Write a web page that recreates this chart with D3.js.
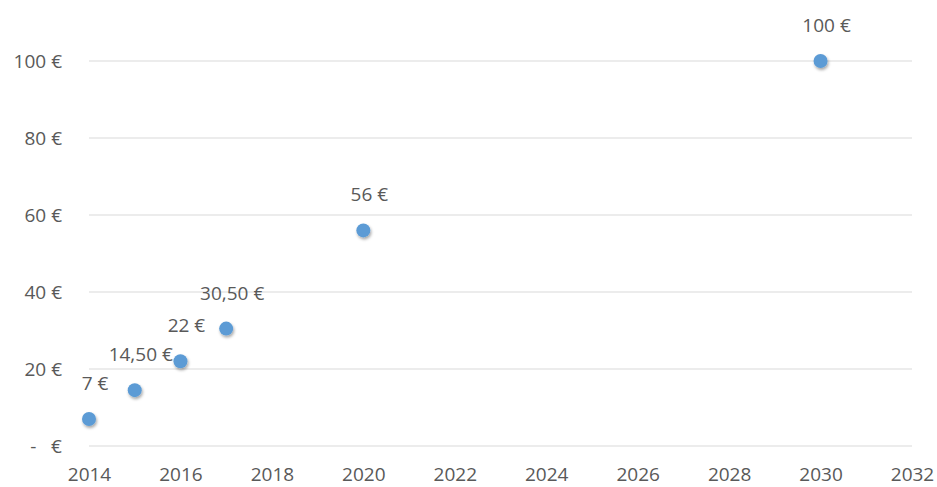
<!DOCTYPE html>
<html>
<head>
<meta charset="utf-8">
<script src="https://cdn.jsdelivr.net/npm/d3@7"></script>
<style>
  body { margin: 0; background: #fff; }
  text { font-family: "Open Sans", "Liberation Sans", sans-serif; fill: #595959; }
</style>
</head>
<body>
<div id="chart"></div>
<script>
var years = [2014, 2015, 2016, 2017, 2020, 2030];
var prices = [7, 14.5, 22, 30.5, 56, 100];
var priceLabels = ["7 €", "14,50 €", "22 €", "30,50 €", "56 €", "100 €"];
var yTicks = [0, 20, 40, 60, 80, 100];
var xTicks = [2014, 2016, 2018, 2020, 2022, 2024, 2026, 2028, 2030, 2032];

function drawChart() {
  var width = 937, height = 487;
  var margin = {left: 89, right: 25, top: 61, bottom: 41};
  var fontSize = "19px";

  var x = d3.scaleLinear()
      .domain([2014, 2032])
      .range([margin.left, width - margin.right]);

  var y = d3.scaleLinear()
      .domain([0, 100])
      .range([height - margin.bottom, margin.top]);

  var svg = d3.select("#chart").append("svg")
      .attr("width", width)
      .attr("height", height);

  var defs = svg.append("defs");
  var f = defs.append("filter").attr("id", "shadow")
      .attr("x", "-50%").attr("y", "-50%").attr("width", "200%").attr("height", "200%");
  f.append("feDropShadow")
      .attr("dx", 1).attr("dy", 2).attr("stdDeviation", 1.5)
      .attr("flood-color", "#000").attr("flood-opacity", 0.35);

  // gridlines
  svg.append("g")
    .selectAll("line")
    .data(yTicks)
    .enter()
    .append("line")
      .attr("x1", x(2014))
      .attr("x2", x(2032))
      .attr("y1", function(d) { return y(d); })
      .attr("y2", function(d) { return y(d); })
      .style("stroke", "#d9d9d9")
      .style("stroke-width", 1);

  var yAxis = d3.axisLeft(y)
      .tickValues(yTicks)
      .tickSize(0)
      .tickPadding(27)
      .tickFormat(function(d) { return d === 0 ? "-\u00a0\u00a0\u00a0€" : d + " €"; });

  svg.append("g")
      .attr("class", "yAxis")
      .attr("transform", "translate(" + margin.left + ",0)")
      .call(yAxis)
      .call(function(g) { g.select(".domain").remove(); })
      .selectAll("text")
      .style("font-size", fontSize);

  var xAxis = d3.axisBottom(x)
      .tickValues(xTicks)
      .tickSize(0)
      .tickPadding(22)
      .tickFormat(d3.format("d"));

  svg.append("g")
      .attr("class", "xAxis")
      .attr("transform", "translate(0," + y(0) + ")")
      .call(xAxis)
      .call(function(g) { g.select(".domain").remove(); })
      .selectAll("text")
      .style("font-size", fontSize);

  var pts = years.map(function(d, i) { return {year: d, price: prices[i], label: priceLabels[i]}; });

  svg.selectAll(".dot")
      .data(pts)
      .enter()
      .append("circle")
      .attr("class", "dot")
      .attr("cx", function(d) { return x(d.year); })
      .attr("cy", function(d) { return y(d.price); })
      .attr("r", 7)
      .style("fill", "#5b9bd5")
      .attr("filter", "url(#shadow)");

  svg.selectAll(".lbl")
      .data(pts)
      .enter()
      .append("text")
      .attr("class", "lbl")
      .attr("x", function(d) { return x(d.year) + 6; })
      .attr("y", function(d) { return y(d.price) - 29; })
      .style("text-anchor", "middle")
      .style("font-size", fontSize)
      .text(function(d) { return d.label; });
}

drawChart();
</script>
</body>
</html>
